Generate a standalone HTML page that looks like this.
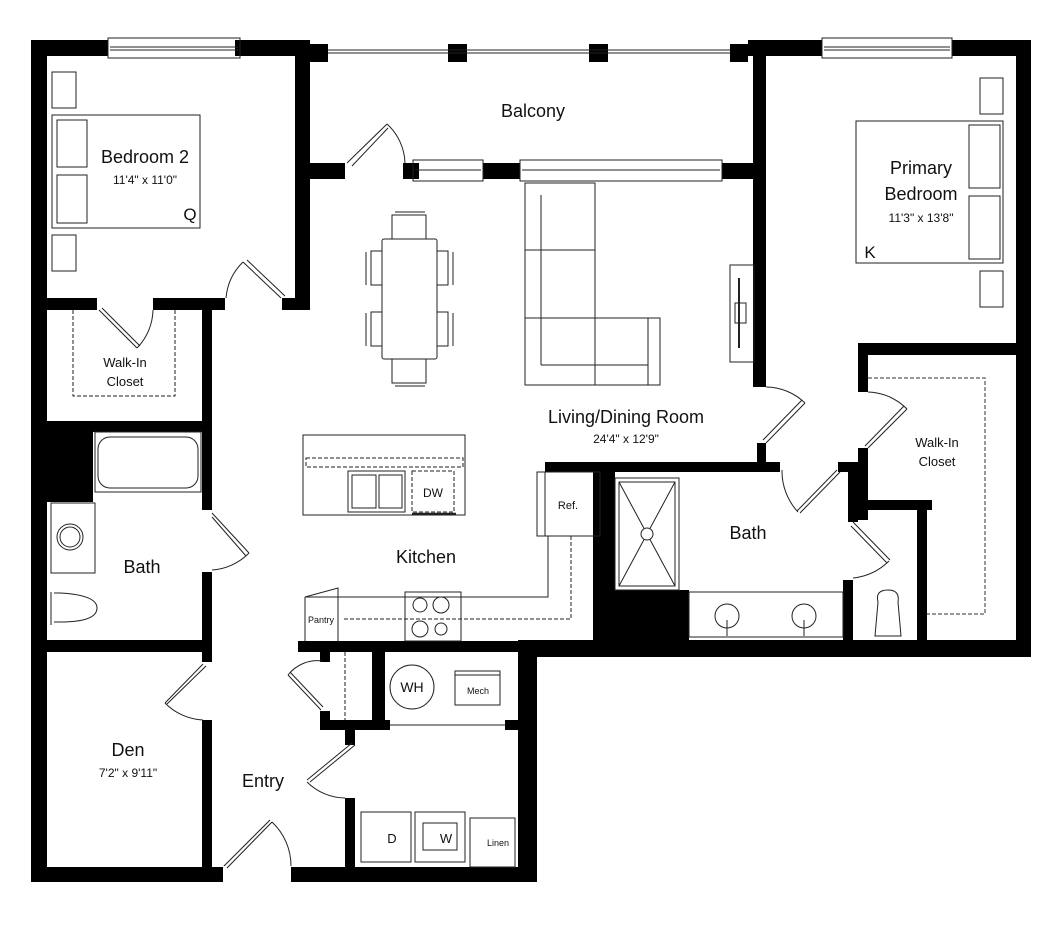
<!DOCTYPE html>
<html><head><meta charset="utf-8"><style>
html,body{margin:0;padding:0;background:#fff;}
svg{display:block;}
text{font-family:"Liberation Sans",sans-serif;fill:#111;}
</style></head><body>
<svg width="1060" height="930" viewBox="0 0 1060 930" xmlns="http://www.w3.org/2000/svg">
<g fill="#000">
<!-- outer left -->
<rect x="31" y="40" width="16" height="842"/>
<rect x="31" y="40" width="77" height="16"/>
<rect x="235" y="40" width="75" height="16"/>
<rect x="295" y="40" width="15" height="270"/>
<rect x="310" y="44" width="18" height="18"/>
<rect x="448" y="44" width="19" height="18"/>
<rect x="589" y="44" width="19" height="18"/>
<rect x="730" y="44" width="18" height="18"/>
<rect x="748" y="40" width="74" height="16"/>
<rect x="952" y="40" width="78" height="16"/>
<rect x="1016" y="40" width="15" height="617"/>
<rect x="753" y="40" width="13" height="347"/>
<!-- living / balcony wall -->
<rect x="310" y="163" width="35" height="16"/>
<rect x="403" y="163" width="16" height="16"/>
<rect x="483" y="163" width="37" height="16"/>
<rect x="722" y="163" width="38" height="16"/>
<!-- bedroom 2 bottom -->
<rect x="47" y="298" width="50" height="12"/>
<rect x="153" y="298" width="72" height="12"/>
<rect x="282" y="298" width="23" height="12"/>
<rect x="202" y="310" width="10" height="200"/>
<rect x="47" y="421" width="165" height="11"/>
<rect x="47" y="421" width="46" height="81"/>
<rect x="202" y="572" width="10" height="90"/>
<rect x="47" y="640" width="165" height="12"/>
<rect x="202" y="720" width="10" height="162"/>
<!-- bottom -->
<rect x="31" y="867" width="192" height="15"/>
<rect x="291" y="867" width="246" height="15"/>
<rect x="518" y="640" width="19" height="242"/>
<rect x="298" y="641" width="239" height="11"/>
<rect x="537" y="640" width="494" height="17"/>
<!-- utility -->
<rect x="320" y="652" width="10" height="10"/>
<rect x="372" y="652" width="13" height="78"/>
<rect x="320" y="711" width="10" height="19"/>
<rect x="320" y="720" width="70" height="10"/>
<rect x="505" y="720" width="13" height="10"/>
<rect x="345" y="730" width="10" height="15"/>
<rect x="345" y="798" width="10" height="69"/>
<!-- kitchen/bath -->
<rect x="545" y="462" width="235" height="10"/>
<rect x="593" y="472" width="22" height="168"/>
<rect x="613" y="590" width="76" height="50"/>
<rect x="757" y="443" width="9" height="27"/>
<rect x="838" y="462" width="20" height="10"/>
<rect x="848" y="470" width="10" height="52"/>
<rect x="858" y="448" width="10" height="72"/>
<rect x="843" y="580" width="10" height="60"/>
<rect x="858" y="500" width="74" height="10"/>
<rect x="917" y="500" width="10" height="140"/>
<rect x="858" y="343" width="159" height="12"/>
<rect x="858" y="343" width="10" height="49"/>
</g>
<g fill="none" stroke="#222" stroke-width="1">
<!-- windows -->
<rect x="108" y="38" width="132" height="20"/><line x1="110" y1="47" x2="238" y2="47"/><line x1="110" y1="50" x2="238" y2="50"/>
<rect x="822" y="38" width="130" height="20"/><line x1="824" y1="47" x2="950" y2="47"/><line x1="824" y1="50" x2="950" y2="50"/>
<line x1="328" y1="50" x2="730" y2="50"/><line x1="328" y1="53" x2="730" y2="53"/>
<rect x="413" y="160" width="70" height="21"/><line x1="415" y1="170" x2="481" y2="170"/>
<rect x="520" y="160" width="202" height="21"/><line x1="522" y1="170" x2="720" y2="170"/>
<!-- doors -->
<path d="M347 163 L387 124 M352 166 L388 128"/><path d="M387 124 A55 55 0 0 1 405 163"/>
<path d="M281 298 L243 262 M285 296 L247 260"/><path d="M243 262 A57 57 0 0 0 226 298"/>
<path d="M99 310 L137 348 M102 308 L140 346"/><path d="M137 348 A56 56 0 0 0 153 310"/>
<path d="M212 513 L249 553 M212 517 L246 556"/><path d="M249 553 A57 57 0 0 1 212 570"/>
<path d="M203 664 L165 703 M206 666 L167 704"/><path d="M165 703 A57 57 0 0 0 203 720"/>
<path d="M224 866 L270 820 M227 868 L272 822"/><path d="M272 822 A60 60 0 0 1 291 866"/>
<path d="M288 675 L321 710 M290 672 L323 707"/><path d="M288 675 A37 37 0 0 1 322 661"/>
<path d="M355 745 L310 782 M352 743 L307 780"/><path d="M307 782 A55 55 0 0 0 345 798"/>
<path d="M766 387 A57 57 0 0 1 805 403 M805 403 L766 443 M802 400 L763 440"/>
<path d="M868 392 A57 57 0 0 1 907 409 M907 409 L868 448 M904 406 L865 446"/>
<path d="M837 470 L797 511 M840 472 L800 513"/><path d="M782 470 A60 60 0 0 0 798 512"/>
<path d="M853 522 L890 560 M851 526 L887 563"/><path d="M889 561 A60 60 0 0 1 853 578"/>
<!-- bedroom 2 furniture -->
<rect x="52" y="72" width="24" height="36"/><rect x="52" y="115" width="148" height="113"/>
<rect x="57" y="120" width="30" height="47"/><rect x="57" y="175" width="30" height="48"/>
<rect x="52" y="235" width="24" height="36"/>
<!-- closet dashed -->
<path d="M73 310 V396 H175 V310" stroke-dasharray="4 2"/>
<!-- dining -->
<rect x="382" y="239" width="55" height="120" rx="2"/>
<path d="M392 239 V215 H426 V239 M395 212 H425"/>
<path d="M392 359 V383 H426 V359 M395 386 H425"/>
<path d="M382 251 H371 V285 H382 M382 312 H371 V346 H382 M437 251 H448 V285 H437 M437 312 H448 V346 H437"/>
<path d="M366 252 V285 M366 313 V346 M453 252 V285 M453 313 V346"/>
<!-- sofa -->
<rect x="525" y="183" width="70" height="202"/><line x1="541" y1="195" x2="541" y2="365"/>
<line x1="525" y1="250" x2="595" y2="250"/><line x1="525" y1="318" x2="595" y2="318"/>
<rect x="595" y="318" width="65" height="67"/><line x1="541" y1="365" x2="648" y2="365"/><line x1="648" y1="318" x2="648" y2="385"/>
<rect x="730" y="265" width="24" height="97"/><line x1="739" y1="278" x2="739" y2="348" stroke-width="2"/><rect x="735" y="303" width="11" height="20"/>
<!-- primary -->
<rect x="980" y="78" width="23" height="36"/><rect x="856" y="121" width="147" height="142"/>
<rect x="969" y="125" width="31" height="63"/><rect x="969" y="196" width="31" height="63"/>
<rect x="980" y="271" width="23" height="36"/>
<path d="M868 378 H985 V614 H927" stroke="#777" stroke-dasharray="4 2" stroke-width="1.5"/>
<!-- kitchen -->
<rect x="303" y="435" width="162" height="80"/>
<rect x="306" y="458" width="157" height="9" stroke-dasharray="4 2"/>
<rect x="348" y="471" width="57" height="41"/><rect x="352" y="475" width="24" height="33"/><rect x="379" y="475" width="23" height="33"/>
<rect x="412" y="471" width="42" height="41" stroke-dasharray="4 2"/><line x1="412" y1="514" x2="456" y2="514" stroke-width="2.5"/>
<rect x="537" y="472" width="63" height="64"/><line x1="545" y1="472" x2="545" y2="536"/>
<path d="M548 536 V597 H305"/><path d="M571 536 V619 H342" stroke-dasharray="4 2"/>
<path d="M305 597 L338 588 V641 M305 597 V641"/>
<rect x="405" y="592" width="56" height="49"/><circle cx="420" cy="605" r="7"/><circle cx="441" cy="605" r="8"/><circle cx="420" cy="629" r="8"/><circle cx="441" cy="629" r="6"/>
<!-- bath left -->
<rect x="95" y="432" width="106" height="60"/><rect x="98" y="437" width="100" height="51" rx="12"/>
<rect x="51" y="503" width="44" height="70"/><circle cx="70" cy="537" r="13"/><circle cx="70" cy="537" r="10"/>
<path d="M51 592 V625 M54 593 H60 Q97 595 97 608 Q97 622 60 622 H54"/>
<!-- utility -->
<circle cx="412" cy="687" r="22"/><rect x="455" y="671" width="45" height="34"/><line x1="455" y1="675" x2="500" y2="675"/>
<line x1="390" y1="725" x2="505" y2="725"/>
<line x1="345" y1="652" x2="345" y2="720" stroke-dasharray="4 2"/>
<rect x="361" y="812" width="50" height="50"/><rect x="415" y="812" width="50" height="50"/><rect x="423" y="823" width="34" height="27"/>
<rect x="470" y="818" width="45" height="49"/>
<!-- shower -->
<rect x="615" y="478" width="64" height="112"/><rect x="619" y="482" width="56" height="104"/>
<path d="M619 482 L675 586 M675 482 L619 586"/><circle cx="647" cy="534" r="6" fill="#fff"/>
<!-- vanity -->
<rect x="689" y="592" width="154" height="45"/><circle cx="727" cy="616" r="12"/><circle cx="804" cy="616" r="12"/>
<path d="M727 620 V636 M804 620 V636"/>
<path d="M875 636 L878 602 Q875 590 888 590 Q900 590 898 602 L901 636 Z"/>
</g>
<g text-anchor="middle">
<text x="533" y="117" font-size="18">Balcony</text>
<text x="145" y="163" font-size="18">Bedroom 2</text>
<text x="145" y="184" font-size="12">11'4" x 11'0"</text>
<text x="190" y="220" font-size="17">Q</text>
<text x="921" y="174" font-size="18">Primary</text>
<text x="921" y="200" font-size="18">Bedroom</text>
<text x="921" y="222" font-size="12">11'3" x 13'8"</text>
<text x="870" y="258" font-size="17">K</text>
<text x="125" y="367" font-size="13">Walk-In</text>
<text x="125" y="386" font-size="13">Closet</text>
<text x="626" y="423" font-size="18">Living/Dining Room</text>
<text x="626" y="443" font-size="12">24'4" x 12'9"</text>
<text x="937" y="447" font-size="13">Walk-In</text>
<text x="937" y="466" font-size="13">Closet</text>
<text x="433" y="497" font-size="12">DW</text>
<text x="568" y="509" font-size="11">Ref.</text>
<text x="426" y="563" font-size="18">Kitchen</text>
<text x="142" y="573" font-size="18">Bath</text>
<text x="748" y="539" font-size="18">Bath</text>
<text x="321" y="623" font-size="9">Pantry</text>
<text x="412" y="692" font-size="14">WH</text>
<text x="478" y="694" font-size="9">Mech</text>
<text x="128" y="756" font-size="18">Den</text>
<text x="128" y="777" font-size="12">7'2" x 9'11"</text>
<text x="263" y="787" font-size="18">Entry</text>
<text x="392" y="843" font-size="13">D</text>
<text x="446" y="843" font-size="13">W</text>
<text x="498" y="846" font-size="9">Linen</text>
</g>
</svg>
</body></html>
